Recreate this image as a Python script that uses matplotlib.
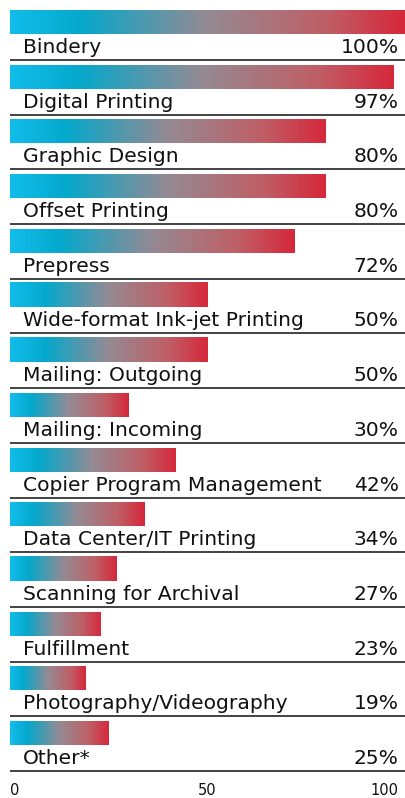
import matplotlib
matplotlib.use("Agg")
import matplotlib.pyplot as plt
import numpy as np
from matplotlib.colors import LinearSegmentedColormap

categories = ["Bindery", "Digital Printing", "Graphic Design", "Offset Printing",
              "Prepress", "Wide-format Ink-jet Printing", "Mailing: Outgoing",
              "Mailing: Incoming", "Copier Program Management",
              "Data Center/IT Printing", "Scanning for Archival", "Fulfillment",
              "Photography/Videography", "Other*"]
values = [100, 97, 80, 80, 72, 50, 50, 30, 42, 34, 27, 23, 19, 25]
value_labels = ["100%", "97%", "80%", "80%", "72%", "50%", "50%", "30%",
                "42%", "34%", "27%", "23%", "19%", "25%"]
xticks = [0, 50, 100]

plt.rcParams['font.family'] = ['DejaVu Sans']

W, H = 406, 798
fig = plt.figure(figsize=(W / 100, H / 100), dpi=100)
ax = fig.add_axes([10 / W, 0, 395 / W, 1])

pitch = 54.69
top_px = 22
ylim_top = (0 - top_px) / pitch
ylim_bot = (H - top_px) / pitch

cmap = LinearSegmentedColormap.from_list(
    "grad", [(0.0, "#12BDEB"), (0.18, "#05A8CB"), (0.5, "#958A93"),
             (0.8, "#BF5F66"), (1.0, "#D6283B")])
grad = np.linspace(0, 1, 256).reshape(1, -1)

bh = 24 / pitch
for i, (cat, v, lab) in enumerate(zip(categories, values, value_labels)):
    ax.imshow(grad, cmap=cmap, aspect='auto', interpolation='bilinear',
              extent=[0, v, i + bh / 2, i - bh / 2], zorder=2)
    ax.text(3.3, i + 0.567, cat, fontsize=14.6, color="#111111",
            ha='left', va='baseline')
    ax.text(98.4, i + 0.567, lab, fontsize=14.6, color="#111111",
            ha='right', va='baseline')
    ax.axhline(i + 0.695, color="#222222", lw=1.2, zorder=3)

tick_y = (791 - top_px) / pitch
has = ['left', 'center', 'right']
xs = [0, 50, 98.4]
for t, ha, xx in zip(xticks, has, xs):
    ax.text(xx, tick_y, str(t), fontsize=10.5, color="#111111",
            ha=ha, va='center')

ax.set_xlim(0, 100)
ax.set_ylim(ylim_bot, ylim_top)
ax.axis('off')

fig.savefig("out.png", dpi=100)
